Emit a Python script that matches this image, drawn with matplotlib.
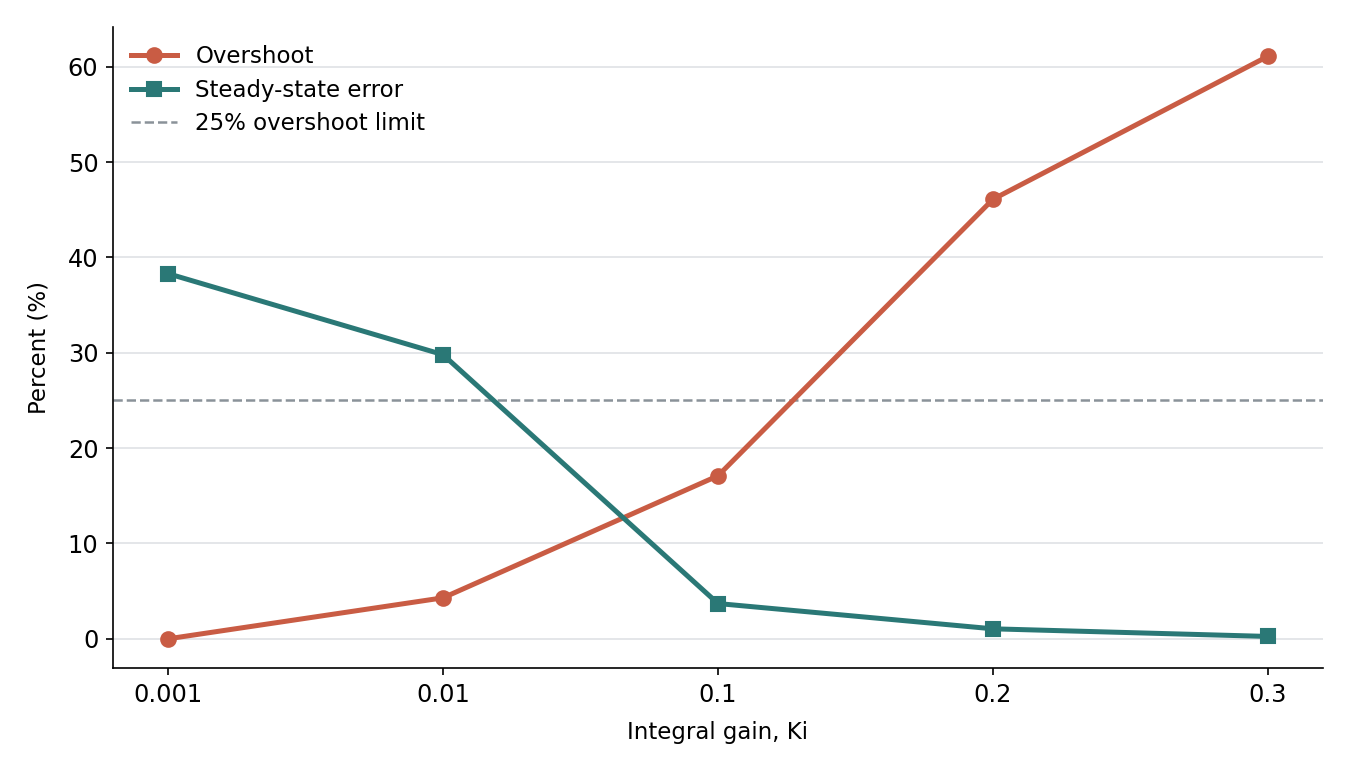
import matplotlib
matplotlib.use("Agg")
import matplotlib.pyplot as plt

ki_labels = ["0.001", "0.01", "0.1", "0.2", "0.3"]
overshoot = [0.0, 4.3, 17.1, 46.1, 61.1]
sse = [38.3, 29.8, 3.7, 1.05, 0.25]
limit = 25

fig = plt.figure(figsize=(9, 5.16), dpi=150)
ax = fig.add_axes([0.0837, 0.137, 0.8963, 0.828])
x = list(range(len(ki_labels)))
ax.plot(x, overshoot, color="#C95C44", lw=2.4, marker="o", ms=7, label="Overshoot", zorder=3)
ax.plot(x, sse, color="#2A7876", lw=2.4, marker="s", ms=7, label="Steady-state error", zorder=3)
ax.axhline(limit, color="#8A9299", lw=1.2, ls="--", label="25% overshoot limit", zorder=2)
ax.set_xticks(x)
ax.set_xticklabels(ki_labels)
ax.set_xlabel("Integral gain, Ki", fontsize=11, labelpad=7)
ax.set_ylabel("Percent (%)", fontsize=11, labelpad=8)
ax.tick_params(labelsize=11.5)
ax.grid(axis="y", color="#E3E5E8", lw=0.9)
ax.set_axisbelow(True)
for s in ["top", "right"]:
    ax.spines[s].set_visible(False)
ax.legend(loc="upper left", frameon=False, fontsize=11, borderaxespad=0.4, labelspacing=0.45)
fig.savefig("out.png", dpi=150)
